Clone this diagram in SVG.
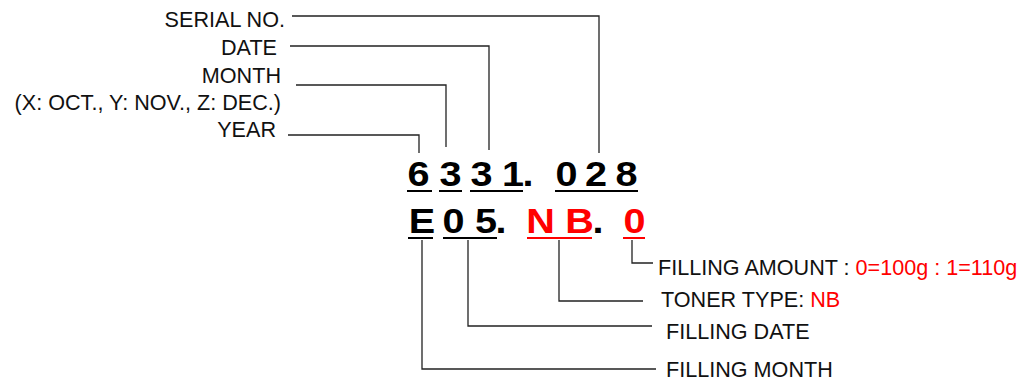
<svg xmlns="http://www.w3.org/2000/svg" width="1023" height="381" viewBox="0 0 1023 381">
<style>
.lbl{font-family:"Liberation Sans",Arial,sans-serif;font-size:21.6px;fill:#111}
.end{text-anchor:end}
.big{font-family:"Liberation Sans",Arial,sans-serif;font-size:36px;font-weight:bold;text-anchor:middle;fill:#000}
.red,.big.red{fill:#ff0000}
.conn{fill:none;stroke:#222;stroke-width:1.3}
.ul{stroke:#000;stroke-width:2}
.ulr{stroke:#ff0000;stroke-width:2}
</style>
<rect width="1023" height="381" fill="#fff"/>
<g id="connectors">
<polyline class="conn" points="292,16 599,16 599,153"/>
<polyline class="conn" points="290,46 489,46 489,150"/>
<polyline class="conn" points="296,85 446,85 446,147"/>
<polyline class="conn" points="288,135 419,135 419,153"/>
<polyline class="conn" points="632,240 632,263 653,263"/>
<polyline class="conn" points="559,240 559,301 643,301"/>
<polyline class="conn" points="468,240 468,326 652,326"/>
<polyline class="conn" points="422,240 422,369 656,369"/>
</g>
<g id="label-serial"><text class="lbl end" x="285" y="26.5">SERIAL NO.</text></g>
<g id="label-date"><text class="lbl end" x="277" y="55">DATE</text></g>
<g id="label-month"><text class="lbl end" x="281" y="82.7">MONTH</text><text class="lbl end" x="281" y="110">(X: OCT., Y: NOV., Z: DEC.)</text></g>
<g id="label-year"><text class="lbl end" x="276" y="137">YEAR</text></g>
<g id="code-row1">
<text class="big" transform="translate(418.5,186) scale(1.1,1)">6</text>
<text class="big" transform="translate(450.5,186) scale(1.1,1)">3</text>
<text class="big" transform="translate(481.5,186) scale(1.1,1)">3</text>
<text class="big" transform="translate(513,186) scale(1.1,1)">1</text>
<text class="big" transform="translate(528,186) scale(1.1,1)">.</text>
<text class="big" transform="translate(566.5,186) scale(1.1,1)">0</text>
<text class="big" transform="translate(596,186) scale(1.1,1)">2</text>
<text class="big" transform="translate(626.5,186) scale(1.1,1)">8</text>
<line class="ul" x1="407" y1="191" x2="432" y2="191"/>
<line class="ul" x1="439" y1="191" x2="462" y2="191"/>
<line class="ul" x1="470" y1="191" x2="523" y2="191"/>
<line class="ul" x1="555" y1="191" x2="638" y2="191"/>
</g>
<g id="code-row2">
<text class="big" transform="translate(422,233) scale(1.1,1)">E</text>
<text class="big" transform="translate(453.5,233) scale(1.1,1)">0</text>
<text class="big" transform="translate(486,233) scale(1.1,1)">5</text>
<text class="big" transform="translate(501,233) scale(1.1,1)">.</text>
<text class="big red" transform="translate(540.5,233) scale(1.1,1)">N</text>
<text class="big red" transform="translate(579.5,233) scale(1.1,1)">B</text>
<text class="big" transform="translate(598,233) scale(1.1,1)">.</text>
<text class="big red" transform="translate(634.5,233) scale(1.1,1)">0</text>
<line class="ul" x1="408" y1="238" x2="433" y2="238"/>
<line class="ul" x1="443" y1="238" x2="497" y2="238"/>
<line class="ulr" x1="527" y1="238" x2="592" y2="238"/>
<line class="ulr" x1="623" y1="238" x2="645" y2="238"/>
</g>
<g id="label-amount"><text class="lbl" x="658" y="275">FILLING AMOUNT : <tspan class="red">0=100g : 1=110g</tspan></text></g>
<g id="label-toner"><text class="lbl" x="661" y="307">TONER TYPE: <tspan class="red">NB</tspan></text></g>
<g id="label-fdate"><text class="lbl" x="666" y="339">FILLING DATE</text></g>
<g id="label-fmonth"><text class="lbl" x="666" y="377">FILLING MONTH</text></g>
</svg>
